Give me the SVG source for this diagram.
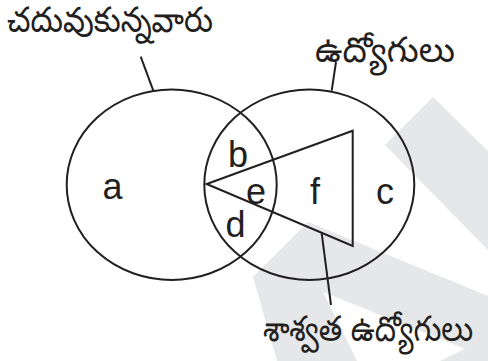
<svg xmlns="http://www.w3.org/2000/svg" width="488" height="361" viewBox="0 0 488 361">
  <style>
    .shape { fill: none; stroke: #231f20; stroke-width: 2; }
    .conn { stroke: #231f20; stroke-width: 2; fill: none; }
    .lbl { font-family: "Liberation Sans", Arial, sans-serif; font-size: 36px; fill: #231f20; text-anchor: middle; }
    .tel { font-family: "Noto Sans Telugu", "Noto Sans", sans-serif; font-size: 35px; fill: #231f20; }
    .wm { fill: #e6e7e8; stroke: none; }
  </style>
  <rect width="488" height="361" fill="#ffffff"/>
  <g id="watermark">
    <polygon class="wm" points="433,97 488,151 488,250 385,145"/>
    <polygon class="wm" points="253,277 308,222 488,296 488,361 440,361 488,337 488,358 323,292 357,361 277,361"/>
  </g>
  <g id="educated">
    <ellipse class="shape" cx="171.7" cy="184.7" rx="105" ry="95.3"/>
    <text class="tel" x="7" y="32" textLength="206" lengthAdjust="spacingAndGlyphs">చదువుకున్నవారు</text>
  </g>
  <g id="employees">
    <ellipse class="shape" cx="309.3" cy="184.7" rx="105" ry="95.3"/>
    <text class="tel" x="315" y="62" textLength="140" lengthAdjust="spacingAndGlyphs">ఉద్యోగులు</text>
  </g>
  <g id="permanent">
    <polygon class="shape" points="206.7,184 352.7,130.7 352.7,246"/>
    <text class="tel" transform="translate(263,341) scale(0.86,1)" x="0" y="0" font-size="30">శాశ్వత ఉద్యోగులు</text>
  </g>
  <g id="regions">
    <text class="lbl" x="112.5" y="199">a</text>
    <text class="lbl" x="238" y="167">b</text>
    <text class="lbl" x="385" y="204">c</text>
    <text class="lbl" x="235.5" y="237">d</text>
    <text class="lbl" x="256" y="203.5">e</text>
    <text class="lbl" x="315" y="203.5">f</text>
  </g>
  <g id="connectors">
    <line class="conn" x1="140.7" y1="56.7" x2="153.3" y2="90.7"/>
    <line class="conn" x1="336" y1="62" x2="331.7" y2="90.7"/>
    <line class="conn" x1="321.7" y1="233.3" x2="331" y2="305"/>
  </g>
</svg>
